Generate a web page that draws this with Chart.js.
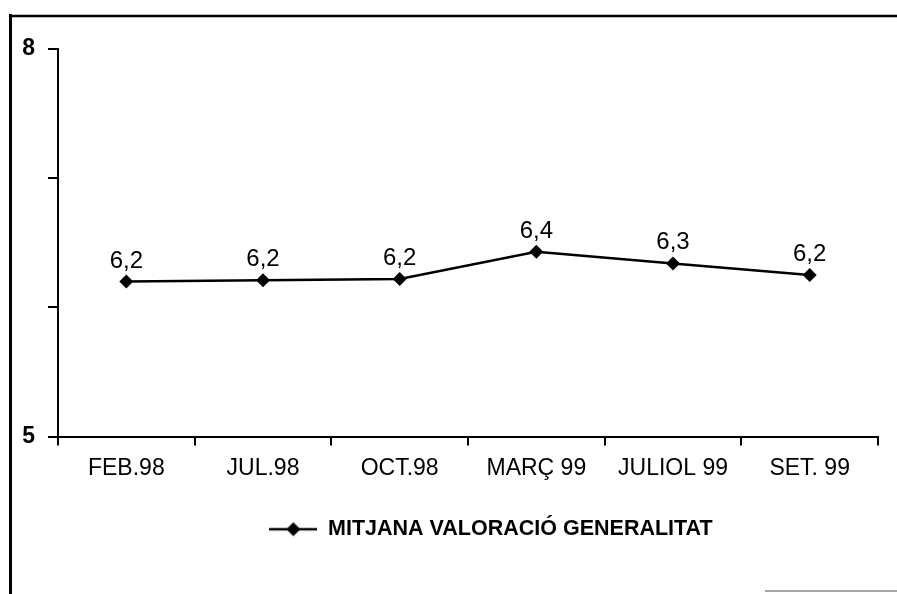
<!DOCTYPE html>
<html>
<head>
<meta charset="utf-8">
<script src="https://cdn.jsdelivr.net/npm/chart.js@4/dist/chart.umd.min.js"></script>
<style>
  html, body { margin: 0; padding: 0; background: #fff; }
  #wrap { width: 897px; height: 594px; position: relative; }
</style>
</head>
<body>
<div id="wrap"><canvas id="c" width="897" height="594"></canvas></div>
<script>
// ---- data ----
const categories = ["FEB.98", "JUL.98", "OCT.98", "MARÇ 99", "JULIOL 99", "SET. 99"];
const values = [6.20, 6.21, 6.22, 6.43, 6.34, 6.25];
const valueLabels = ["6,2", "6,2", "6,2", "6,4", "6,3", "6,2"];
const seriesName = "MITJANA VALORACIÓ GENERALITAT";
const yTickLabels = { 5: "5", 8: "8" };
const yMin = 5, yMax = 8;

const FONT = "'Liberation Sans', Arial, Helvetica, sans-serif";

// legend symbol: line with diamond
const sym = document.createElement('canvas');
sym.width = 48; sym.height = 16;
(function () {
  const g = sym.getContext('2d');
  g.strokeStyle = '#000'; g.lineWidth = 2.5;
  g.beginPath(); g.moveTo(0, 8); g.lineTo(48, 8); g.stroke();
  g.fillStyle = '#000';
  g.beginPath(); g.moveTo(24, 1); g.lineTo(31, 8); g.lineTo(24, 15); g.lineTo(17, 8); g.closePath(); g.fill();
})();

const framePlugin = {
  id: 'frame',
  beforeDraw(chart) {
    const ctx = chart.ctx;
    ctx.save();
    ctx.fillStyle = '#fff';
    ctx.fillRect(0, 0, chart.width, chart.height);
    ctx.strokeStyle = '#000';
    ctx.lineWidth = 3;
    ctx.beginPath(); ctx.moveTo(10.5, 14); ctx.lineTo(10.5, 594); ctx.stroke();
    ctx.lineWidth = 2.5;
    ctx.beginPath(); ctx.moveTo(9, 16); ctx.lineTo(897, 16); ctx.stroke();
    ctx.strokeStyle = '#888';
    ctx.lineWidth = 1.5;
    ctx.beginPath(); ctx.moveTo(765, 591); ctx.lineTo(897, 591); ctx.stroke();
    ctx.restore();
  }
};

const valueLabelPlugin = {
  id: 'valueLabels',
  afterDatasetsDraw(chart) {
    const ctx = chart.ctx;
    const meta = chart.getDatasetMeta(0);
    ctx.save();
    ctx.fillStyle = '#000';
    ctx.font = "24px " + FONT;
    ctx.textAlign = 'center';
    ctx.textBaseline = 'alphabetic';
    meta.data.forEach((pt, i) => {
      ctx.fillText(valueLabels[i], pt.x, pt.y - 14);
    });
    ctx.restore();
  }
};

const legendShiftPlugin = {
  id: 'legendShift',
  afterLayout(chart) {
    if (chart.legend) { chart.legend.left = 104; }
  }
};

new Chart(document.getElementById('c'), {
  type: 'line',
  data: {
    labels: categories,
    datasets: [{
      label: seriesName,
      data: values,
      borderColor: '#000',
      backgroundColor: '#000',
      borderWidth: 2.5,
      tension: 0,
      fill: false,
      pointStyle: 'rectRot',
      pointRadius: 7,
      pointBackgroundColor: '#000',
      pointBorderColor: '#000',
      pointBorderWidth: 0
    }]
  },
  options: {
    responsive: false,
    animation: false,
    devicePixelRatio: 1,
    layout: { padding: { top: 49, right: 19, left: 0, bottom: 44 } },
    plugins: {
      tooltip: { enabled: false },
      legend: {
        position: 'bottom',
        align: 'center',
        labels: {
          color: '#000',
          font: { family: FONT, size: 21.5, weight: 'bold' },
          usePointStyle: true,
          pointStyleWidth: 48,
          boxHeight: 16,
          padding: 10,
          generateLabels(chart) {
            return [{
              text: seriesName,
              fillStyle: '#000',
              strokeStyle: '#000',
              lineWidth: 0,
              pointStyle: sym,
              hidden: false,
              datasetIndex: 0,
              fontColor: '#000'
            }];
          }
        }
      }
    },
    scales: {
      x: {
        type: 'category',
        offset: true,
        afterFit(s) { s.height = 72; },
        border: { display: true, color: '#000', width: 2 },
        grid: { display: true, offset: true, drawOnChartArea: false, drawTicks: true, tickLength: 9, color: '#000', lineWidth: 2 },
        ticks: { color: '#000', padding: 9, maxRotation: 0, autoSkip: false, font: { family: FONT, size: 23 } }
      },
      y: {
        min: yMin, max: yMax,
        afterFit(s) { s.width = 58; },
        border: { display: true, color: '#000', width: 2 },
        grid: { display: true, drawOnChartArea: false, drawTicks: true, tickLength: 10, color: '#000', lineWidth: 2 },
        ticks: {
          stepSize: 1,
          color: '#000',
          padding: 13,
          font: { family: FONT, size: 23, weight: 'bold' },
          callback(v) { return yTickLabels[v] !== undefined ? yTickLabels[v] : ''; }
        }
      }
    }
  },
  plugins: [framePlugin, valueLabelPlugin, legendShiftPlugin]
});
</script>
</body>
</html>
